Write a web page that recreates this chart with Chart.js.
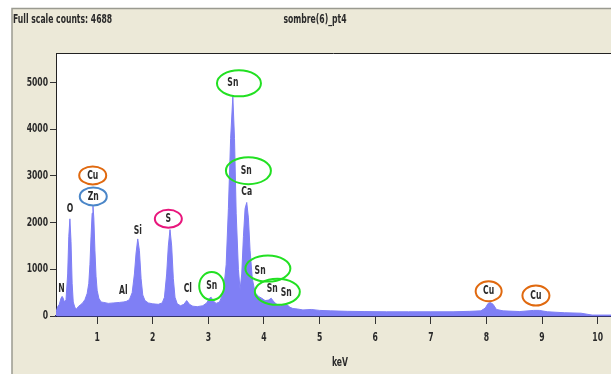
<!DOCTYPE html>
<html>
<head>
<meta charset="utf-8">
<script src="https://cdn.jsdelivr.net/npm/chart.js@4.4.1/dist/chart.umd.min.js"></script>
<style>
  html, body { margin: 0; padding: 0; background: #fff; }
  canvas { display: block; }
</style>
</head>
<body>
<canvas id="spectre" width="611" height="374"></canvas>
<script>
// === 1. Donnees du spectre ===
const energies = [
  0.26, 0.29, 0.32, 0.35, 0.37, 0.39, 0.41, 0.44, 0.47, 0.49, 0.51, 0.53, 0.55, 0.57, 0.60, 0.63, 0.66, 0.70,
  0.74, 0.78, 0.82, 0.85, 0.87, 0.89, 0.91, 0.925, 0.94, 0.96, 0.98, 1.00, 1.03, 1.07, 1.12, 1.20, 1.30, 1.40,
  1.47, 1.52, 1.58, 1.63, 1.67, 1.70, 1.73, 1.76, 1.79, 1.82, 1.86, 1.92, 2.00, 2.10, 2.17, 2.21, 2.25, 2.28,
  2.31, 2.34, 2.37, 2.40, 2.44, 2.50, 2.56, 2.61, 2.66, 2.72, 2.80, 2.90, 2.97, 3.02, 3.05, 3.09, 3.14, 3.20,
  3.27, 3.32, 3.36, 3.40, 3.44, 3.47, 3.50, 3.54, 3.57, 3.60, 3.63, 3.66, 3.69, 3.72, 3.75, 3.79, 3.84, 3.90,
  3.96, 4.02, 4.08, 4.13, 4.18, 4.24, 4.30, 4.36, 4.41, 4.46, 4.52, 4.60, 4.70, 4.85, 5.00, 5.20, 5.50, 5.80,
  6.20, 6.60, 7.00, 7.40, 7.70, 7.90, 7.98, 8.03, 8.07, 8.12, 8.18, 8.30, 8.60, 8.85, 8.95, 9.10, 9.40, 9.70,
  9.90, 10.24
];
const coups = [
  80, 200, 250, 380, 420, 380, 300, 350, 900, 1700, 2080, 1600, 700, 300, 180, 150, 200, 240,
  280, 350, 480, 700, 1100, 1700, 2200, 2350, 2100, 1400, 850, 550, 380, 300, 290, 270, 280, 290,
  300, 310, 350, 500, 900, 1350, 1650, 1400, 800, 450, 330, 280, 260, 250, 280, 400, 900, 1500,
  1850, 1500, 800, 400, 260, 220, 250, 330, 250, 210, 200, 220, 280, 380, 400, 320, 270, 300,
  500, 1100, 2300, 3800, 4700, 3800, 2200, 1000, 560, 900, 1700, 2300, 2430, 2100, 1400, 800, 500, 420,
  380, 330, 340, 380, 300, 240, 220, 240, 250, 190, 160, 150, 130, 140, 120, 110, 100, 95,
  90, 90, 90, 90, 100, 110, 170, 270, 290, 250, 140, 110, 95, 120, 120, 90, 70, 60,
  20, 20
];
const ticksKeV = [1, 2, 3, 4, 5, 6, 7, 8, 9, 10];
const ticksCoups = [0, 1000, 2000, 3000, 4000, 5000];

// === 2. Etiquettes des elements (position en keV / coups) ===
const etiquettes = [
  { t: 'N',  e: 0.36, c: 590 },
  { t: 'O',  e: 0.51, c: 2300 },
  { t: 'Cu', e: 0.92, c: 3010 },
  { t: 'Zn', e: 0.93, c: 2560 },
  { t: 'Al', e: 1.47, c: 530 },
  { t: 'Si', e: 1.73, c: 1830 },
  { t: 'S',  e: 2.28, c: 2080 },
  { t: 'Cl', e: 2.63, c: 580 },
  { t: 'Sn', e: 3.06, c: 640 },
  { t: 'Sn', e: 3.44, c: 4980 },
  { t: 'Sn', e: 3.68, c: 3110 },
  { t: 'Ca', e: 3.69, c: 2650 },
  { t: 'Sn', e: 3.93, c: 960 },
  { t: 'Sn', e: 4.15, c: 580 },
  { t: 'Sn', e: 4.40, c: 500 },
  { t: 'Cu', e: 8.04, c: 530 },
  { t: 'Cu', e: 8.89, c: 438 }
];
// cercles de couleur ajoutes autour des pics
const cercles = [
  { e: 0.92, c: 3010, w: 27, h: 18, col: '#e0690f' },
  { e: 0.93, c: 2560, w: 27, h: 18, col: '#4a86c8' },
  { e: 2.28, c: 2080, w: 27, h: 18, col: '#e8167c' },
  { e: 3.06, c: 640,  w: 25, h: 28, col: '#22e022' },
  { e: 3.55, c: 4980, w: 44, h: 26, col: '#22e022' },
  { e: 3.72, c: 3110, w: 45, h: 27, col: '#22e022' },
  { e: 4.07, c: 1015, w: 45, h: 26, col: '#22e022' },
  { e: 4.24, c: 517,  w: 45, h: 26, col: '#22e022' },
  { e: 8.04, c: 530,  w: 26, h: 20, col: '#e0690f' },
  { e: 8.89, c: 438,  w: 27, h: 20, col: '#e0690f' }
];

const POLICE = "bold 12px 'DejaVu Sans'";
const ETROIT = 0.64; // texte tres condense comme sur l'original

function texte(ctx, t, x, y, align) {
  ctx.save();
  ctx.translate(x, y);
  ctx.scale(ETROIT, 1);
  ctx.textAlign = align || 'center';
  ctx.fillText(t, 0, 0);
  ctx.restore();
}

// === 3. Plugin : fond beige, cadre, titres, graduations, annotations ===
const decor = {
  id: 'decor',
  beforeDraw(chart) {
    const { ctx, chartArea: a, width, height } = chart;
    ctx.save();
    ctx.fillStyle = '#ffffff';
    ctx.fillRect(0, 0, width, height);
    ctx.fillStyle = '#ece9d8';
    ctx.fillRect(12, 8, width - 12, height - 8);
    ctx.strokeStyle = '#9a9a90';
    ctx.lineWidth = 1.5;
    ctx.beginPath();
    ctx.moveTo(12, height); ctx.lineTo(12, 8.5); ctx.lineTo(width, 8.5);
    ctx.stroke();
    ctx.fillStyle = '#ffffff';
    ctx.fillRect(a.left, a.top, width - a.left, a.bottom - a.top);
    ctx.restore();
  },
  afterDatasetsDraw(chart) {
    const { ctx, scales: { x, y } } = chart;
    ctx.save();
    ctx.font = POLICE;
    ctx.fillStyle = '#2a2a2a';
    ctx.textBaseline = 'middle';
    etiquettes.forEach(l => texte(ctx, l.t, x.getPixelForValue(l.e), y.getPixelForValue(l.c)));
    ctx.lineWidth = 2;
    cercles.forEach(r => {
      ctx.strokeStyle = r.col;
      ctx.beginPath();
      ctx.ellipse(x.getPixelForValue(r.e), y.getPixelForValue(r.c), r.w / 2, r.h / 2, 0, 0, Math.PI * 2);
      ctx.stroke();
    });
    ctx.restore();
  },
  afterDraw(chart) {
    const { ctx, chartArea: a, width, scales: { x, y } } = chart;
    ctx.save();
    ctx.strokeStyle = '#222';
    ctx.lineWidth = 1;
    ctx.beginPath();
    ctx.moveTo(a.left, a.top + 0.5); ctx.lineTo(width, a.top + 0.5);
    ctx.stroke();
    // textes et graduations
    ctx.font = POLICE;
    ctx.fillStyle = '#2a2a2a';
    ctx.textBaseline = 'middle';
    texte(ctx, 'Full scale counts: 4688', 13, 20, 'left');
    texte(ctx, 'sombre(6)_pt4', 315, 20);
    texte(ctx, 'keV', 340, 363);
    ticksKeV.forEach(v => texte(ctx, String(v), x.getPixelForValue(v), 338));
    ticksCoups.forEach(v => texte(ctx, String(v), 48, y.getPixelForValue(v), 'right'));
    ctx.restore();
  }
};

// === 4. Graphique ===
new Chart(document.getElementById('spectre'), {
  type: 'line',
  data: {
    datasets: [{
      data: energies.map((e, i) => ({ x: e, y: coups[i] })),
      fill: 'origin',
      backgroundColor: '#7f7ff5',
      borderColor: '#7f7ff5',
      borderWidth: 1,
      pointRadius: 0,
      tension: 0
    }]
  },
  options: {
    responsive: false,
    animation: false,
    layout: { padding: { top: 53, left: 0, right: 0, bottom: 0 } },
    plugins: { legend: { display: false }, tooltip: { enabled: false } },
    scales: {
      x: {
        type: 'linear',
        min: 0.26,
        max: 10.24,
        afterFit: s => { s.height = 58; },
        afterBuildTicks: s => { s.ticks = ticksKeV.map(v => ({ value: v })); },
        ticks: { display: false },
        grid: { drawOnChartArea: false, tickLength: 8, color: '#333' },
        border: { color: '#33336e', width: 2 }
      },
      y: {
        min: 0,
        max: 5630,
        afterFit: s => { s.width = 56; },
        afterBuildTicks: s => { s.ticks = ticksCoups.map(v => ({ value: v })); },
        ticks: { display: false },
        grid: { drawOnChartArea: false, tickLength: 6, color: '#333' },
        border: { color: '#222', width: 1 }
      }
    }
  },
  plugins: [decor]
});
</script>
</body>
</html>
